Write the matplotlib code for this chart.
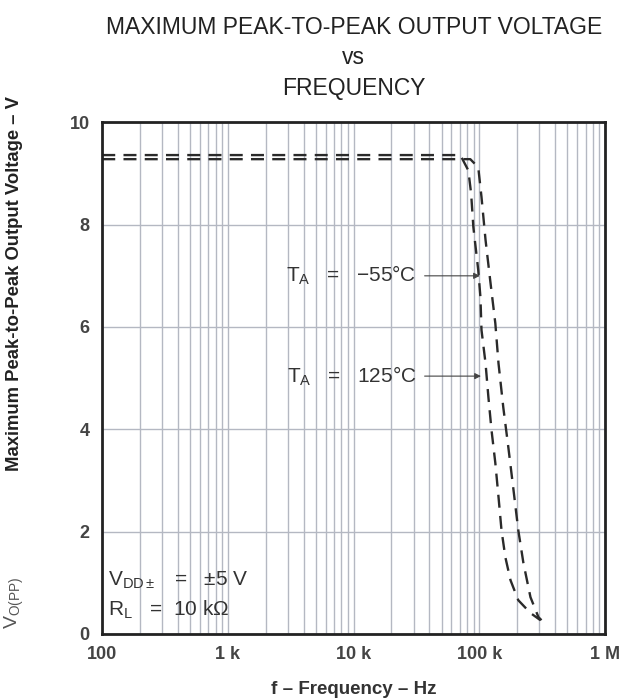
import numpy as np
import matplotlib
matplotlib.use("Agg")
from matplotlib import pyplot as plt
from matplotlib.ticker import FixedLocator, LogLocator, NullFormatter

plt.rcParams['font.family'] = ['Liberation Sans', 'DejaVu Sans']
plt.rcParams['mathtext.fontset'] = 'custom'
plt.rcParams['mathtext.rm'] = 'Liberation Sans'
plt.rcParams['mathtext.it'] = 'Liberation Sans'
plt.rcParams['mathtext.bf'] = 'Liberation Sans:bold'

# curve that rolls off first (left one)
freq_a = [100, 70.6e3, 81.7e3, 86e3, 89.6e3, 98e3, 102e3, 104e3, 112e3, 118e3,
          125e3, 134e3, 142e3, 150e3, 161e3, 177e3, 204e3, 255e3, 306e3]
volt_a = [9.36, 9.36, 9.06, 8.61, 7.95, 7.11, 6.58, 5.94, 5.29, 4.63,
          3.98, 3.34, 2.68, 2.03, 1.50, 1.05, 0.66, 0.41, 0.27]

# curve that rolls off later (right one)
freq_b = [100, 84.7e3, 98e3, 104e3, 112e3, 122e3, 134e3, 142e3, 155e3, 170e3,
          187e3, 204e3, 224e3, 255e3, 295e3, 312e3]
volt_b = [9.28, 9.28, 9.12, 8.54, 7.70, 6.91, 6.07, 5.29, 4.43, 3.65,
          2.81, 2.03, 1.39, 0.72, 0.33, 0.27]

xticks = [100, 1e3, 1e4, 1e5, 1e6]
xlabels = ['100', '1 k', '10 k', '100 k', '1 M']
yticks = [0, 2, 4, 6, 8, 10]

# labels with arrow tips (freq, volt)
temp_labels = [r'$\mathrm{T_A}$   =   $-$55°C', r'$\mathrm{T_A}$   =   125°C']
temp_tips = [(101e3, 7.0), (103e3, 5.04)]

fig = plt.figure(figsize=(6.43, 6.99), dpi=100)
ax = fig.add_axes([0.159, 0.093, 0.782, 0.732])

grid_c = '#b4b8c2'
ax.set_xscale('log')
ax.set_xlim(100, 1e6)
ax.set_ylim(0, 10)
ax.xaxis.set_major_locator(FixedLocator(xticks))
ax.xaxis.set_minor_locator(LogLocator(base=10, subs=np.arange(2, 10)))
ax.xaxis.set_minor_formatter(NullFormatter())
ax.set_xticks(xticks, xlabels)
ax.set_yticks(yticks)
ax.grid(True, which='both', axis='x', color=grid_c, lw=1.0)
ax.grid(True, which='major', axis='y', color=grid_c, lw=1.0)
ax.tick_params(which='both', length=0, labelsize=13, colors='#444444', pad=9)
for lab in ax.get_xticklabels() + ax.get_yticklabels():
    lab.set_fontweight('bold')

for s in ax.spines.values():
    s.set_linewidth(2)
    s.set_color('#222222')

ls = dict(color='#2a2a2a', lw=1.7, dashes=(5.5, 3.5))
ax.plot(freq_a, volt_a, **ls)
ax.plot(freq_b, volt_b, **ls)

for lab, tip in zip(temp_labels, temp_tips):
    ax.annotate(lab, xy=tip, xytext=(31.5e3, tip[1]), ha='right', va='center',
                fontsize=15, color='#333333',
                arrowprops=dict(arrowstyle='-|>', color='#444444', lw=0.8,
                                mutation_scale=9, shrinkA=4, shrinkB=0))

ax.text(0.012, 0.105, r'$\mathrm{V_{DD\pm}}$   =   ±5 V', transform=ax.transAxes,
        fontsize=15, color='#333333', va='center')
ax.text(0.012, 0.048, r'$\mathrm{R_L}$   =  10 k$\Omega$', transform=ax.transAxes,
        fontsize=15, color='#333333', va='center')

title_kw = dict(ha='center', va='center', fontsize=16.5, color='#222222')
fig.text(0.55, 0.96, 'MAXIMUM PEAK-TO-PEAK OUTPUT VOLTAGE', **title_kw)
fig.text(0.55, 0.918, 'vs', **title_kw)
fig.text(0.55, 0.874, 'FREQUENCY', **title_kw)

fig.text(0.55, 0.013, 'f – Frequency – Hz', ha='center', va='center', fontsize=13.5,
         color='#333333', fontweight='bold')

fig.text(0.022, 0.137, r'$\mathrm{V_{O(PP)}}$', rotation=90, ha='center', va='center',
         fontsize=14, color='#555555')
fig.text(0.022, 0.595, 'Maximum Peak-to-Peak Output Voltage – V', rotation=90,
         ha='center', va='center', fontsize=13.3, color='#222222', fontweight='bold')

fig.savefig('out.png', dpi=100)
